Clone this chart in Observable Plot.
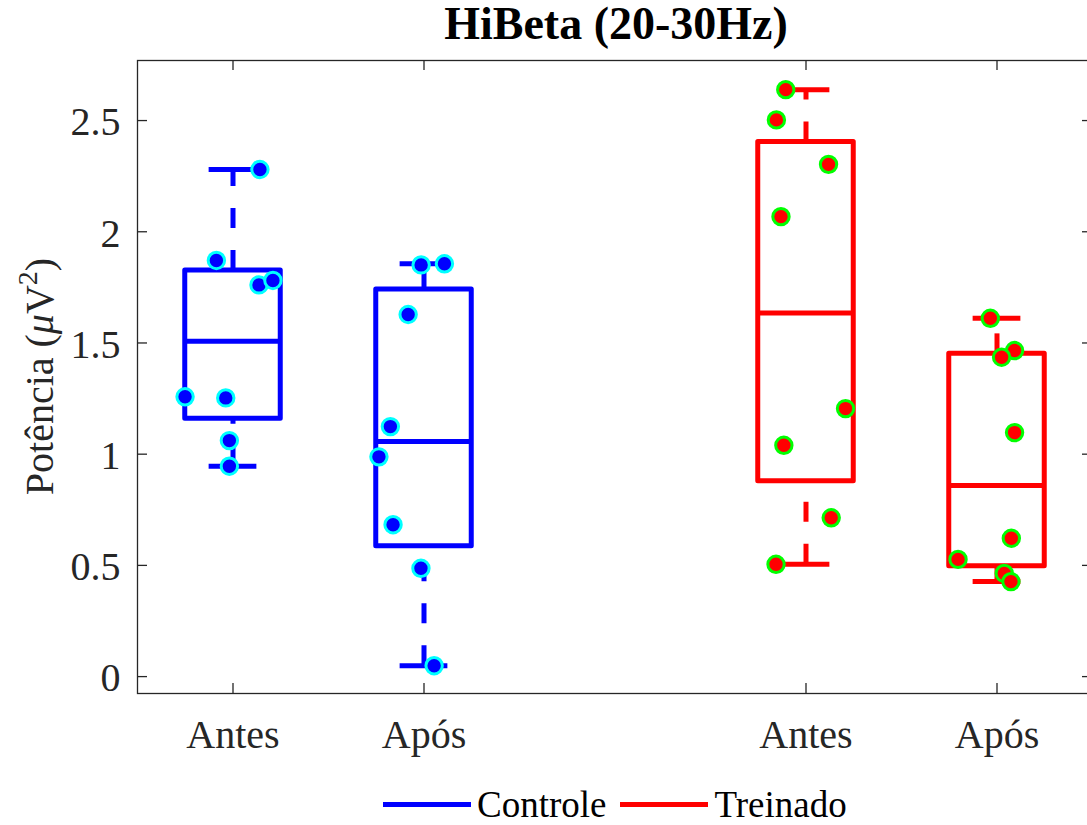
<!DOCTYPE html>
<html>
<head>
<meta charset="utf-8">
<script src="https://cdn.jsdelivr.net/npm/d3@7"></script>
<script src="https://cdn.jsdelivr.net/npm/@observablehq/plot@0.6"></script>
<style>
  html, body { margin: 0; padding: 0; background: #fff; overflow: hidden; }
  #chart { width: 1087px; height: 825px; font-family: "Liberation Serif", "Times New Roman", serif; }
  #title { height: 50px; line-height: 47px; font-size: 46px; font-weight: bold; text-align: center;
           padding-left: 145px; box-sizing: border-box; color: #000; white-space: nowrap; }
  #legend { height: 50px; box-sizing: border-box; padding-top: 9px; padding-left: 383px;
            display: flex; align-items: center; font-size: 37px; line-height: 1; color: #000; }
  .entry { display: flex; align-items: center; margin-right: 14px; }
  .swatch { width: 88px; height: 5px; margin-right: 6px; }
</style>
</head>
<body>
<div id="chart">
  <div id="title">HiBeta (20-30Hz)</div>
  <div id="plot"></div>
  <div id="legend"></div>
</div>
<script>
// Groups along the x axis
const positions = [1, 2, 4, 5];
const groupLabels = ["Antes", "Após", "Antes", "Após"];
const groupSeries = ["Controle", "Controle", "Treinado", "Treinado"];

// Series styling
const seriesNames = ["Controle", "Treinado"];
const seriesColors = ["#0000ff", "#ff0000"];
const markerEdges = ["#00ffff", "#00ff00"];

// Box statistics per group (µV²)
const q1 = [1.159, 0.586, 0.878, 0.496];
const median = [1.508, 1.057, 1.635, 0.859];
const q3 = [1.826, 1.740, 2.404, 1.451];
const whiskerLow = [0.946, 0.049, 0.505, 0.427];
const whiskerHigh = [2.280, 1.856, 2.639, 1.611];

// Individual subjects per group, with horizontal jitter offsets
const pointValues = [
  [2.280, 1.871, 1.761, 1.781, 1.258, 1.253, 1.061, 0.946],
  [1.851, 1.856, 1.628, 1.124, 0.988, 0.683, 0.487, 0.049],
  [2.639, 2.503, 2.303, 2.068, 1.205, 1.040, 0.714, 0.505],
  [1.611, 1.466, 1.436, 1.097, 0.622, 0.527, 0.464, 0.427]
];
const pointJitter = [
  [0.141, -0.087, 0.136, 0.209, -0.251, -0.038, -0.019, -0.019],
  [-0.015, 0.107, -0.083, -0.176, -0.236, -0.162, -0.016, 0.053],
  [-0.106, -0.155, 0.118, -0.131, 0.207, -0.116, 0.132, -0.157],
  [-0.035, 0.092, 0.024, 0.092, 0.075, -0.204, 0.038, 0.073]
];

const yTicks = [0, 0.5, 1, 1.5, 2, 2.5];
const yTickLabels = ["0", "0.5", "1", "1.5", "2", "2.5"];

const colorOf = s => seriesColors[seriesNames.indexOf(s)];
const edgeOf = s => markerEdges[seriesNames.indexOf(s)];

const boxes = positions.map((p, i) => ({
  pos: p, series: groupSeries[i],
  q1: q1[i], median: median[i], q3: q3[i], lo: whiskerLow[i], hi: whiskerHigh[i]
}));
const points = positions.flatMap((p, i) =>
  pointValues[i].map((v, j) => ({x: p + pointJitter[i][j], value: v, series: groupSeries[i]}))
);

const W = 1087, H = 725, mt = 10, mb = 82, ml = 137, mr = -5;
const frameW = W - ml - mr, frameH = H - mt - mb;
const tickLen = 10;
const halfBox = 0.25, halfCap = 0.125;
const axisColor = "#262626";
const lw = 5;

const plot = Plot.plot({
  width: W, height: H,
  marginTop: mt, marginBottom: mb, marginLeft: ml, marginRight: mr,
  style: {fontFamily: "'Liberation Serif', 'Times New Roman', serif", color: axisColor, background: "#fff"},
  x: {domain: [0.5, 5.5]},
  y: {domain: [-0.076, 2.77]},
  color: {type: "identity"},
  marks: [
    Plot.frame({stroke: axisColor, strokeWidth: 1.3}),
    // inward ticks on all four sides
    Plot.ruleX(positions, {insetTop: frameH - tickLen, stroke: axisColor, strokeWidth: 1.3}),
    Plot.ruleX(positions, {insetBottom: frameH - tickLen, stroke: axisColor, strokeWidth: 1.3}),
    Plot.ruleY(yTicks, {insetRight: frameW - tickLen, stroke: axisColor, strokeWidth: 1.3}),
    Plot.ruleY(yTicks, {insetLeft: frameW - tickLen, stroke: axisColor, strokeWidth: 1.3}),
    Plot.axisX({ticks: positions, tickFormat: d => groupLabels[positions.indexOf(d)],
      tickSize: 0, tickPadding: 26, fontSize: 40, label: null, fill: axisColor}),
    Plot.axisY({ticks: yTicks, tickFormat: d => yTickLabels[yTicks.indexOf(d)],
      tickSize: 0, tickPadding: 17, fontSize: 40, label: null, fill: axisColor, dy: 2}),
    // whiskers (dashed, drawn upward from their lower end)
    Plot.ruleX(boxes, {x: "pos", y1: "q3", y2: "hi", stroke: d => colorOf(d.series),
      strokeWidth: lw, strokeDasharray: "20,22"}),
    Plot.ruleX(boxes, {x: "pos", y1: "lo", y2: "q1", stroke: d => colorOf(d.series),
      strokeWidth: lw, strokeDasharray: "20,22"}),
    // whisker caps
    Plot.ruleY(boxes, {y: "hi", x1: d => d.pos - halfCap, x2: d => d.pos + halfCap,
      stroke: d => colorOf(d.series), strokeWidth: lw}),
    Plot.ruleY(boxes, {y: "lo", x1: d => d.pos - halfCap, x2: d => d.pos + halfCap,
      stroke: d => colorOf(d.series), strokeWidth: lw}),
    // boxes and medians
    Plot.rect(boxes, {x1: d => d.pos - halfBox, x2: d => d.pos + halfBox, y1: "q1", y2: "q3",
      fill: "none", stroke: d => colorOf(d.series), strokeWidth: lw, strokeLinejoin: "round"}),
    Plot.ruleY(boxes, {y: "median", x1: d => d.pos - halfBox, x2: d => d.pos + halfBox,
      stroke: d => colorOf(d.series), strokeWidth: lw}),
    // subjects
    Plot.dot(points, {x: "x", y: "value", r: 8.2, fill: d => colorOf(d.series),
      stroke: d => edgeOf(d.series), strokeWidth: 3})
  ]
});

// y-axis title with italic mu and superscript
const yLabel = d3.select(plot).append("text")
  .attr("transform", `translate(53,${(mt + H - mb) / 2})rotate(-90)`)
  .attr("text-anchor", "middle")
  .attr("font-size", 40)
  .attr("fill", axisColor);
yLabel.append("tspan").text("Potência (");
yLabel.append("tspan").attr("font-style", "italic").text("μ");
yLabel.append("tspan").text("V");
yLabel.append("tspan").attr("font-size", 28).attr("dy", -16).text("2");
yLabel.append("tspan").attr("dy", 16).text(")");

document.getElementById("plot").append(plot);

// legend
const legend = d3.select("#legend");
seriesNames.forEach((name, i) => {
  const entry = legend.append("div").attr("class", "entry");
  entry.append("div").attr("class", "swatch").style("background", seriesColors[i]);
  entry.append("span").text(name);
});
</script>
</body>
</html>
